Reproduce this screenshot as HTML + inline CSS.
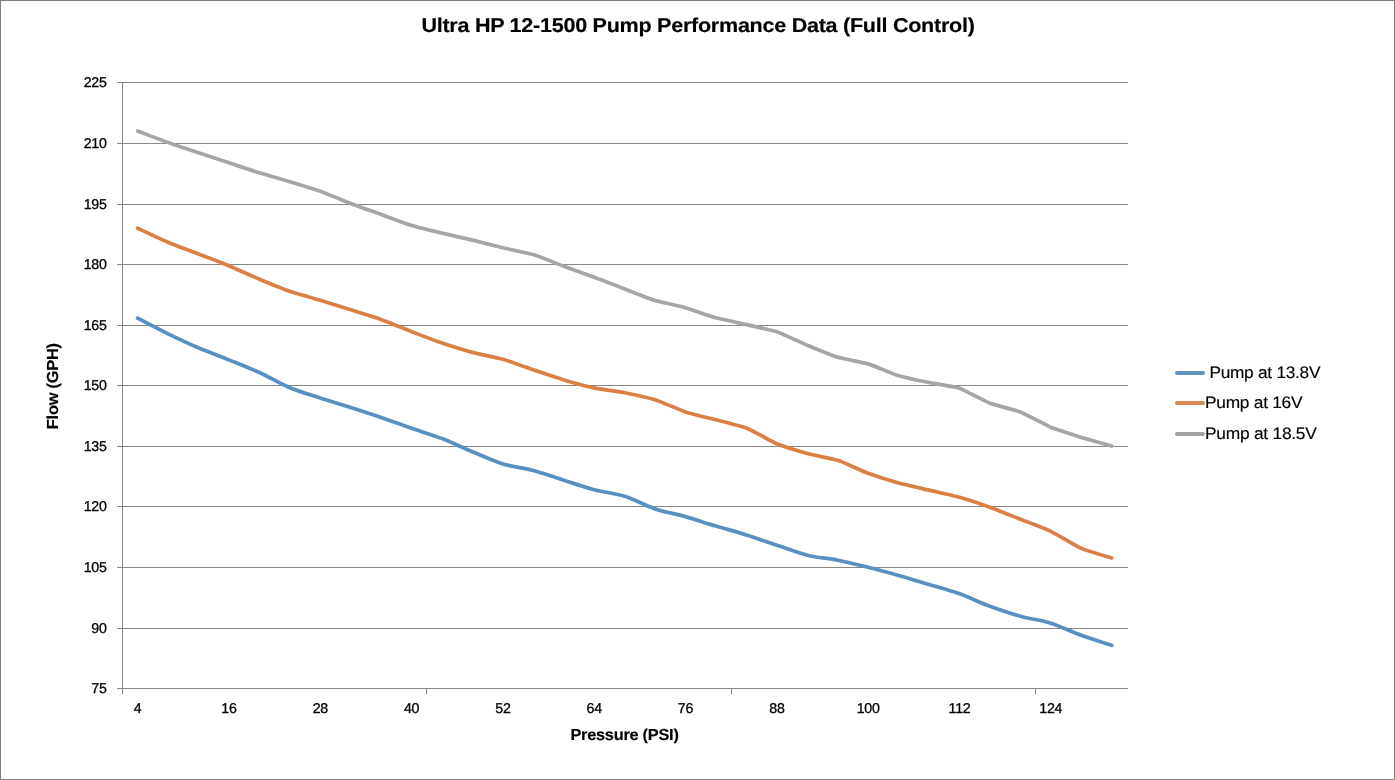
<!DOCTYPE html>
<html lang="en"><head><meta charset="utf-8"><title>Ultra HP 12-1500 Pump Performance Data (Full Control)</title>
<style>html,body{margin:0;padding:0;background:#fff}body{width:1395px;height:780px;overflow:hidden}svg{display:block;will-change:transform;opacity:.999}text{text-rendering:geometricPrecision;letter-spacing:-0.25px;font-family:"Liberation Sans",Arial,sans-serif;fill:#000;stroke:#000;stroke-width:.3px}.b{font-weight:bold;stroke-width:.15px}.l{stroke-width:.15px}</style></head><body>
<svg width="1395" height="780" viewBox="0 0 1395 780">
<rect x="0" y="0" width="1395" height="780" fill="#fff"/>
<rect x="0.5" y="0.5" width="1394" height="779" fill="none" stroke="#808080" stroke-width="1"/>
<g stroke="#868686" stroke-width="1" shape-rendering="crispEdges">
<line x1="117" y1="82.5" x2="1128" y2="82.5"/>
<line x1="117" y1="143.5" x2="1128" y2="143.5"/>
<line x1="117" y1="204.5" x2="1128" y2="204.5"/>
<line x1="117" y1="264.5" x2="1128" y2="264.5"/>
<line x1="117" y1="325.5" x2="1128" y2="325.5"/>
<line x1="117" y1="385.5" x2="1128" y2="385.5"/>
<line x1="117" y1="446.5" x2="1128" y2="446.5"/>
<line x1="117" y1="506.5" x2="1128" y2="506.5"/>
<line x1="117" y1="567.5" x2="1128" y2="567.5"/>
<line x1="117" y1="628.5" x2="1128" y2="628.5"/>
<line x1="117" y1="688.5" x2="1128" y2="688.5"/>
<line x1="122.5" y1="82" x2="122.5" y2="694.0"/>
<line x1="426.5" y1="688" x2="426.5" y2="694"/>
<line x1="731.5" y1="688" x2="731.5" y2="694"/>
<line x1="1035.5" y1="688" x2="1035.5" y2="694"/>
</g>
<path d="M137.6 318.2 C142.7 320.8 157.9 328.9 168.1 333.8 C178.2 338.7 188.4 343.5 198.5 347.8 C208.6 352.1 218.8 355.8 228.9 359.9 C239.1 364.0 249.2 367.9 259.4 372.5 C269.5 377.1 279.7 383.5 289.8 387.7 C300.0 391.9 310.1 394.6 320.3 397.9 C330.4 401.2 340.6 404.1 350.7 407.4 C360.8 410.6 371.0 413.9 381.1 417.4 C391.3 420.9 401.4 424.7 411.6 428.2 C421.7 431.7 431.9 434.7 442.0 438.6 C452.2 442.5 462.3 447.6 472.5 451.8 C482.6 456.0 492.8 460.8 502.9 463.9 C513.0 467.0 523.2 467.8 533.3 470.5 C543.5 473.2 553.6 477.0 563.8 480.2 C573.9 483.4 584.1 487.0 594.2 489.7 C604.4 492.4 614.5 493.1 624.7 496.3 C634.8 499.5 645.0 505.5 655.1 508.9 C665.2 512.3 675.4 513.7 685.5 516.6 C695.7 519.5 705.8 523.1 716.0 526.1 C726.1 529.1 736.3 531.7 746.4 534.9 C756.6 538.1 766.7 541.8 776.9 545.2 C787.0 548.6 797.2 552.7 807.3 555.2 C817.4 557.7 827.6 558.2 837.7 560.2 C847.9 562.2 858.0 564.8 868.2 567.3 C878.3 569.8 888.5 572.6 898.6 575.5 C908.8 578.4 918.9 581.5 929.1 584.5 C939.2 587.5 949.4 590.2 959.5 593.8 C969.6 597.4 979.8 602.5 989.9 606.2 C1000.1 609.9 1010.2 613.4 1020.4 616.2 C1030.5 619.0 1040.7 620.0 1050.8 623.2 C1061.0 626.4 1071.1 631.6 1081.3 635.3 C1091.4 639.0 1106.6 643.6 1111.7 645.3" fill="none" stroke="#5A8FC1" stroke-width="3.7" stroke-linecap="round" stroke-linejoin="round"/>
<path d="M137.6 228.2 C140.2 229.4 163.0 240.2 168.1 242.3 C173.1 244.5 193.4 252.1 198.5 254.0 C203.6 255.9 223.9 263.6 228.9 265.7 C234.0 267.8 254.3 277.1 259.4 279.2 C264.5 281.3 284.7 289.5 289.8 291.3 C294.9 293.1 315.2 298.8 320.3 300.3 C325.3 301.8 345.6 308.1 350.7 309.7 C355.8 311.3 376.1 317.6 381.1 319.4 C386.2 321.2 406.5 329.6 411.6 331.6 C416.7 333.6 436.9 341.3 442.0 343.0 C447.1 344.7 467.4 351.0 472.5 352.4 C477.5 353.8 497.8 357.8 502.9 359.2 C508.0 360.6 528.3 368.1 533.3 369.8 C538.4 371.5 558.7 378.4 563.8 379.9 C568.9 381.4 589.1 386.8 594.2 387.9 C599.3 389.0 619.6 391.7 624.7 392.7 C629.7 393.7 650.0 398.1 655.1 399.7 C660.2 401.3 680.5 410.2 685.5 411.9 C690.6 413.6 710.9 418.5 716.0 419.8 C721.1 421.1 741.3 426.0 746.4 428.0 C751.5 430.0 771.8 441.7 776.9 443.8 C781.9 445.9 802.2 452.1 807.3 453.5 C812.4 454.9 832.7 458.7 837.7 460.3 C842.8 461.9 863.1 471.4 868.2 473.3 C873.3 475.2 893.5 481.6 898.6 483.0 C903.7 484.4 924.0 488.9 929.1 490.1 C934.1 491.3 954.4 495.8 959.5 497.2 C964.6 498.6 984.9 505.4 989.9 507.2 C995.0 509.0 1015.3 517.3 1020.4 519.3 C1025.5 521.3 1045.7 528.9 1050.8 531.3 C1055.9 533.7 1076.2 546.2 1081.3 548.4 C1086.3 550.6 1109.2 557.2 1111.7 558.0" fill="none" stroke="#DB8044" stroke-width="3.7" stroke-linecap="round" stroke-linejoin="round"/>
<path d="M137.6 131.1 C139.1 131.7 165.0 141.4 168.1 142.5 C171.1 143.6 195.5 151.8 198.5 152.8 C201.5 153.8 225.9 161.8 228.9 162.8 C232.0 163.8 256.3 171.9 259.4 172.8 C262.4 173.7 286.8 180.8 289.8 181.7 C292.9 182.6 317.2 190.2 320.3 191.3 C323.3 192.4 347.7 202.3 350.7 203.5 C353.7 204.7 378.1 213.3 381.1 214.4 C384.2 215.5 408.5 224.6 411.6 225.5 C414.6 226.4 439.0 232.4 442.0 233.1 C445.1 233.8 469.4 239.4 472.5 240.1 C475.5 240.8 499.9 247.1 502.9 247.8 C505.9 248.5 530.3 253.7 533.3 254.6 C536.4 255.5 560.7 265.1 563.8 266.2 C566.8 267.3 591.2 276.2 594.2 277.3 C597.3 278.4 621.6 287.7 624.7 288.9 C627.7 290.1 652.1 299.5 655.1 300.4 C658.1 301.3 682.5 306.8 685.5 307.7 C688.6 308.6 712.9 317.0 716.0 317.8 C719.0 318.6 743.4 323.9 746.4 324.6 C749.5 325.3 773.8 330.8 776.9 331.8 C779.9 332.8 804.3 344.0 807.3 345.3 C810.3 346.6 834.7 356.4 837.7 357.3 C840.8 358.2 865.1 363.0 868.2 363.9 C871.2 364.8 895.6 374.9 898.6 375.8 C901.7 376.7 926.0 381.9 929.1 382.5 C932.1 383.1 956.5 387.2 959.5 388.2 C962.5 389.2 986.9 402.1 989.9 403.3 C993.0 404.5 1017.3 410.7 1020.4 411.9 C1023.4 413.1 1047.8 426.0 1050.8 427.3 C1053.9 428.6 1078.2 436.5 1081.3 437.4 C1084.3 438.3 1110.2 445.6 1111.7 446.0" fill="none" stroke="#A6A6A6" stroke-width="3.7" stroke-linecap="round" stroke-linejoin="round"/>
<text x="106.6" y="86.7" font-size="14.2" text-anchor="end">225</text>
<text x="106.6" y="147.7" font-size="14.2" text-anchor="end">210</text>
<text x="106.6" y="208.7" font-size="14.2" text-anchor="end">195</text>
<text x="106.6" y="268.7" font-size="14.2" text-anchor="end">180</text>
<text x="106.6" y="329.7" font-size="14.2" text-anchor="end">165</text>
<text x="106.6" y="389.7" font-size="14.2" text-anchor="end">150</text>
<text x="106.6" y="450.7" font-size="14.2" text-anchor="end">135</text>
<text x="106.6" y="510.7" font-size="14.2" text-anchor="end">120</text>
<text x="106.6" y="571.7" font-size="14.2" text-anchor="end">105</text>
<text x="106.6" y="632.7" font-size="14.2" text-anchor="end">90</text>
<text x="106.6" y="692.7" font-size="14.2" text-anchor="end">75</text>
<text x="137.6" y="713.0" font-size="14.2" text-anchor="middle">4</text>
<text x="228.9" y="713.0" font-size="14.2" text-anchor="middle">16</text>
<text x="320.3" y="713.0" font-size="14.2" text-anchor="middle">28</text>
<text x="411.6" y="713.0" font-size="14.2" text-anchor="middle">40</text>
<text x="502.9" y="713.0" font-size="14.2" text-anchor="middle">52</text>
<text x="594.2" y="713.0" font-size="14.2" text-anchor="middle">64</text>
<text x="685.5" y="713.0" font-size="14.2" text-anchor="middle">76</text>
<text x="776.9" y="713.0" font-size="14.2" text-anchor="middle">88</text>
<text x="868.2" y="713.0" font-size="14.2" text-anchor="middle">100</text>
<text x="959.5" y="713.0" font-size="14.2" text-anchor="middle">112</text>
<text x="1050.8" y="713.0" font-size="14.2" text-anchor="middle">124</text>
<text class="b" x="421.4" y="32.2" font-size="19.9" textLength="553.2" lengthAdjust="spacingAndGlyphs">Ultra HP 12-1500 Pump Performance Data (Full Control)</text>
<text class="b" x="570.4" y="739.6" font-size="15.9" textLength="108.2" lengthAdjust="spacingAndGlyphs">Pressure (PSI)</text>
<text class="b" transform="translate(58.0 429.2) rotate(-90)" font-size="16" textLength="85.9" lengthAdjust="spacingAndGlyphs">Flow (GPH)</text>
<line x1="1177" y1="373" x2="1203" y2="373" stroke="#6192BC" stroke-width="4" stroke-linecap="round"/>
<text class="l" x="1209.4" y="378.2" font-size="16.6" textLength="110.8" lengthAdjust="spacingAndGlyphs">Pump at 13.8V</text>
<line x1="1177" y1="403" x2="1203" y2="403" stroke="#D98A54" stroke-width="4" stroke-linecap="round"/>
<text class="l" x="1205.0" y="408.2" font-size="16.6" textLength="97.3" lengthAdjust="spacingAndGlyphs">Pump at 16V</text>
<line x1="1177" y1="434" x2="1203" y2="434" stroke="#A2A2A2" stroke-width="4" stroke-linecap="round"/>
<text class="l" x="1205.0" y="439.2" font-size="16.6" textLength="111.6" lengthAdjust="spacingAndGlyphs">Pump at 18.5V</text>
</svg></body></html>
